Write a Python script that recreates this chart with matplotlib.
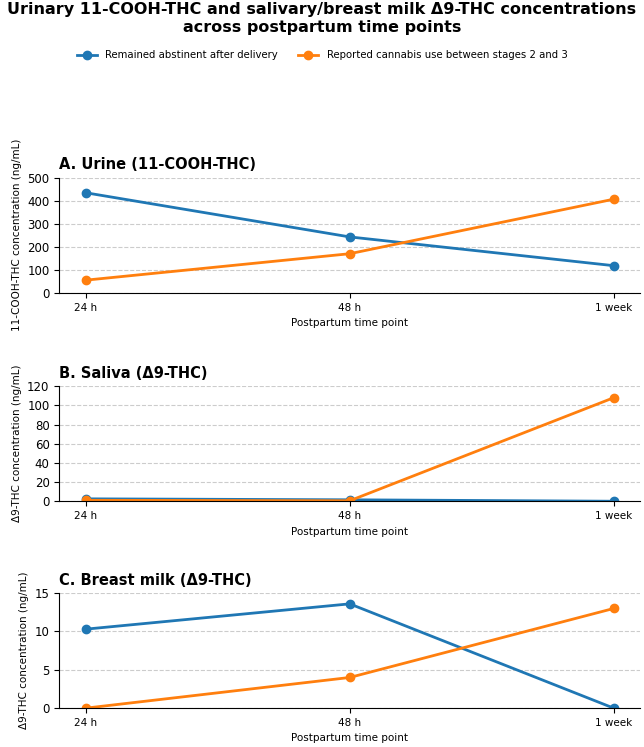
import matplotlib
matplotlib.use("Agg")
import matplotlib.pyplot as plt

timepoints = ["24 h", "48 h", "1 week"]
urine_abst = [435, 243, 118]
urine_use = [55, 170, 407]
saliva_abst = [2.5, 1.5, 0]
saliva_use = [1, 0.5, 108]
milk_abst = [10.3, 13.6, 0]
milk_use = [0, 4, 13]

panels = [
    ("A. Urine (11-COOH-THC)", urine_abst, urine_use, "11-COOH-THC concentration (ng/mL)", [0,100,200,300,400,500], (0, 500), [0.092, 0.608, 0.902, 0.154]),
    ("B. Saliva (Δ9-THC)", saliva_abst, saliva_use, "Δ9-THC concentration (ng/mL)", [0,20,40,60,80,100,120], (0, 120), [0.092, 0.329, 0.902, 0.154]),
    ("C. Breast milk (Δ9-THC)", milk_abst, milk_use, "Δ9-THC concentration (ng/mL)", [0,5,10,15], (0, 15), [0.092, 0.052, 0.902, 0.154]),
]

fig = plt.figure(figsize=(6.44, 7.47), dpi=100)
x = list(range(len(timepoints)))
for title, a, u, ylab, yt, yl, pos in panels:
    ax = fig.add_axes(pos)
    l1, = ax.plot(x, a, marker="o", color="#1f77b4", lw=2, ms=6, label="Remained abstinent after delivery")
    l2, = ax.plot(x, u, marker="o", color="#ff7f0e", lw=2, ms=6, label="Reported cannabis use between stages 2 and 3")
    ax.set_xticks(x)
    ax.set_xticklabels(timepoints)
    ax.set_yticks(yt)
    ax.set_ylim(*yl)
    ax.tick_params(axis="y", labelsize=8.5)
    ax.tick_params(axis="x", labelsize=7.5)
    ax.set_xlim(-0.1, 2.1)
    ax.set_xlabel("Postpartum time point", fontsize=7.5)
    ax.set_ylabel(ylab, fontsize=7.5)
    ax.set_title(title, loc="left", fontsize=10.5, fontweight="bold")
    ax.grid(axis="y", ls="--", color="#cccccc", lw=0.8)
    ax.set_axisbelow(True)
    ax.spines["top"].set_visible(False)
    ax.spines["right"].set_visible(False)

fig.suptitle("Urinary 11-COOH-THC and salivary/breast milk Δ9-THC concentrations\nacross postpartum time points",
             fontsize=11.5, fontweight="bold", y=0.997)
fig.legend(handles=[l1, l2], loc="upper center", bbox_to_anchor=(0.5, 0.945), ncol=2, frameon=False, fontsize=7.3)
fig.savefig("out.png", dpi=100)
